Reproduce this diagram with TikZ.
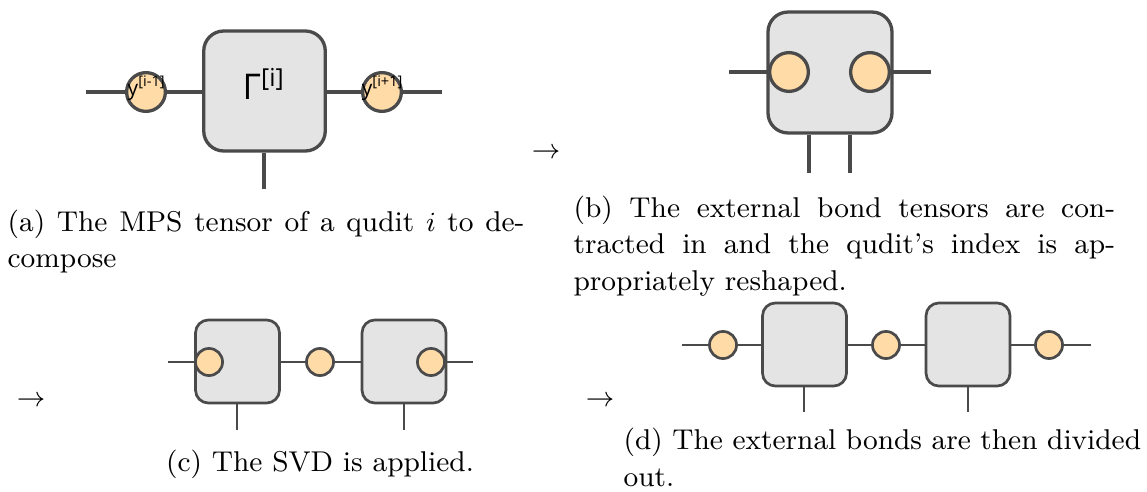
\documentclass[tikz,border=0pt]{standalone}
\usepackage{fontspec}
\newfontfamily\lab{Open Sans}
\usetikzlibrary{backgrounds}
\definecolor{edge}{HTML}{4A4A4A}
\definecolor{boxfill}{HTML}{E4E4E4}
\definecolor{bondfill}{HTML}{FFDBA8}
\tikzset{
  bigbox/.style={draw=edge, fill=boxfill, line width=1.07pt, rounded corners=6.5pt, minimum width=39.5pt, minimum height=39pt, inner sep=0pt},
  smallbox/.style={draw=edge, fill=boxfill, line width=0.88pt, rounded corners=4.2pt, minimum width=27.3pt, minimum height=27pt, inner sep=0pt},
  bigbond/.style={circle, draw=edge, fill=bondfill, line width=1.07pt, minimum size=12.6pt, inner sep=0pt},
  smallbond/.style={circle, draw=edge, fill=bondfill, line width=0.88pt, minimum size=8.8pt, inner sep=0pt},
  bigwire/.style={draw=edge, line width=1.07pt},
  smallwire/.style={draw=edge, line width=0.88pt},
  captxt/.style={inner sep=0pt, font=\fontsize{9.3pt}{12pt}\selectfont, align=justify},
  bondlab/.style={font=\lab\fontsize{6.8pt}{7pt}\selectfont, inner sep=0pt},
  arrowlab/.style={inner sep=0pt, font=\fontsize{9.3pt}{12pt}\selectfont},
}
\begin{document}
\begin{tikzpicture}[x=0.325pt, y=-0.325pt]
\useasboundingbox (0,0) rectangle (1147,492);
% ---------- (a)
\node[bigbox] (abox) at (264.5,91) {};
\node[font=\lab\fontsize{11.5pt}{12pt}\selectfont, inner sep=0pt] (agam) at (264,84) {Γ\textsuperscript{[i]}};
\node[bigbond] (ay1) at (146,92) {};
\node[bigbond] (ay2) at (382,92) {};
\node[bondlab] (ayt1) at (147,88) {y\textsuperscript{[i-1]}};
\node[bondlab] (ayt2) at (383,88) {y\textsuperscript{[i+1]}};
\coordinate (al) at (86,92);
\coordinate (ar) at (442,92);
\coordinate (aleg) at (264,189);
\begin{scope}[on background layer]
\draw[bigwire] (al) -- (ar);
\draw[bigwire] (aleg |- abox.south) -- (aleg);
\end{scope}
% ---------- (b)
\node[bigbox, minimum width=40.3pt, minimum height=39.3pt] (bbox) at (830,72.5) {};
\node[bigbond] (by1) at (789,72) {};
\node[bigbond] (by2) at (870,72) {};
\coordinate (bl) at (729,72);
\coordinate (br) at (931,72);
\coordinate (bleg1) at (809,173);
\coordinate (bleg2) at (850,173);
\begin{scope}[on background layer]
\draw[bigwire] (bl) -- (br);
\draw[bigwire] (bleg1 |- bbox.south) -- (bleg1);
\draw[bigwire] (bleg2 |- bbox.south) -- (bleg2);
\end{scope}
% ---------- (c)
\node[smallbox] (cbox1) at (237.5,361.5) {};
\node[smallbox] (cbox2) at (404,361.5) {};
\node[smallbond] (cy1) at (209,362) {};
\node[smallbond] (cy2) at (320,362) {};
\node[smallbond] (cy3) at (431,362) {};
\coordinate (cl) at (168,362);
\coordinate (cr) at (473,362);
\coordinate (cleg1) at (237,430);
\coordinate (cleg2) at (404,430);
\begin{scope}[on background layer]
\draw[smallwire] (cl) -- (cr);
\draw[smallwire] (cleg1 |- cbox1.south) -- (cleg1);
\draw[smallwire] (cleg2 |- cbox2.south) -- (cleg2);
\end{scope}
% ---------- (d)
\node[smallbox] (dbox1) at (804.5,344.5) {};
\node[smallbox] (dbox2) at (968,344.5) {};
\node[smallbond] (dy1) at (723,345) {};
\node[smallbond] (dy2) at (886,345) {};
\node[smallbond] (dy3) at (1049,345) {};
\coordinate (dl) at (682,345);
\coordinate (dr) at (1091,345);
\coordinate (dleg1) at (804,412);
\coordinate (dleg2) at (968,412);
\begin{scope}[on background layer]
\draw[smallwire] (dl) -- (dr);
\draw[smallwire] (dleg1 |- dbox1.south) -- (dleg1);
\draw[smallwire] (dleg2 |- dbox2.south) -- (dleg2);
\end{scope}
% ---------- arrows
\node[arrowlab] (arb) at (546,153) {$\rightarrow$};
\node[arrowlab] (arc) at (31,401) {$\rightarrow$};
\node[arrowlab] (ard) at (600,401) {$\rightarrow$};
% ---------- captions
\node[captxt, text width=168pt, anchor=north west] (capa) at (7,209)
  {(a) The MPS tensor of a qudit $i$ to de-\linebreak compose};
\node[captxt, text width=176pt, anchor=north west] (capb) at (573,195)
  {(b) The external bond tensors are con-\linebreak tracted in and the qudit's index is ap-\linebreak propriately reshaped.};
\node[arrowlab, anchor=base] (capc) at (320,471)
  {(c) The SVD is applied.};
\node[captxt, align=left, text width=200pt, anchor=north west] (capd) at (623,427)
  {(d) The external bonds are then divided\newline out.};
\end{tikzpicture}
\end{document}
